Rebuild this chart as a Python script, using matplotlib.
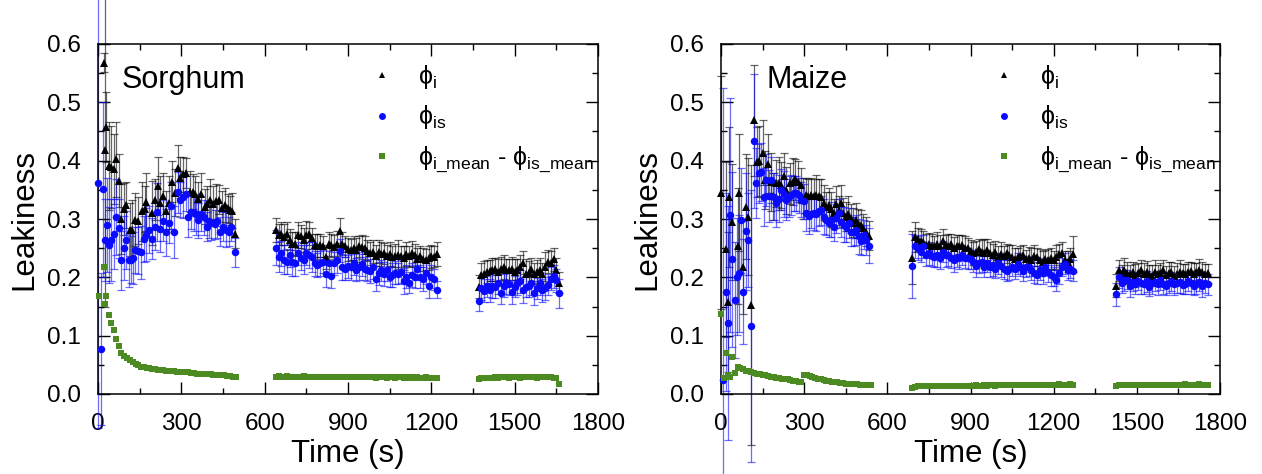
import numpy as np
import matplotlib
matplotlib.use("Agg")
import matplotlib.pyplot as plt
from matplotlib.lines import Line2D

plt.rcParams["font.family"] = ["Liberation Sans", "DejaVu Sans"]
plt.rcParams["mathtext.fontset"] = "custom"
plt.rcParams["mathtext.rm"] = "Liberation Sans"
plt.rcParams["mathtext.it"] = "Liberation Sans:italic"
plt.rcParams["mathtext.fallback"] = "stixsans"

# ---------------- Sorghum ----------------
# segment 1 (irregular early sampling)
sorghum_t_i1 = [20, 24, 29, 38, 48, 58, 66, 77, 84, 95, 102, 114, 122, 134, 144, 158, 168, 174, 194, 204,
                215, 224, 234, 245, 254, 266, 278, 287, 296, 305, 317, 332, 341, 350, 360, 370, 384, 392, 402, 413,
                425, 434, 446, 456, 467, 474, 482, 494]
sorghum_i1 = [0.568, 0.419, 0.458, 0.391, 0.389, 0.385, 0.402, 0.366, 0.300, 0.317, 0.324, 0.282, 0.282, 0.299, 0.297,
              0.313, 0.317, 0.329, 0.311, 0.333, 0.357, 0.328, 0.339, 0.313, 0.328, 0.364, 0.345, 0.387, 0.371, 0.377,
              0.379, 0.347, 0.347, 0.343, 0.334, 0.343, 0.321, 0.326, 0.333, 0.326, 0.330, 0.333, 0.318, 0.324, 0.318,
              0.315, 0.314, 0.275]
sorghum_i1_err = [0.016, 0.27, 0.06, 0.075, 0.07, 0.06, 0.065, 0.045, 0.06, 0.045, 0.04, 0.045, 0.05, 0.045, 0.04,
                  0.05, 0.04, 0.05, 0.055, 0.035, 0.05, 0.045, 0.04, 0.035, 0.045, 0.035, 0.04, 0.04, 0.035, 0.03,
                  0.025, 0.035, 0.03, 0.03, 0.03, 0.035, 0.03, 0.03, 0.035, 0.03, 0.03, 0.025, 0.03, 0.03, 0.025,
                  0.025, 0.03, 0.025]
sorghum_t_is1 = [0, 12, 17, 26, 32, 41, 48, 56, 65, 74, 84, 94, 102, 110, 119, 125, 134, 144, 155, 164,
                 173, 185, 194, 204, 212, 224, 234, 245, 254, 264, 275, 287, 296, 305, 317, 324, 335, 344, 353, 360,
                 372, 382, 392, 400, 408, 420, 428, 440, 450, 461, 470, 480, 494]
sorghum_is1 = [0.362, 0.077, 0.351, 0.264, 0.290, 0.255, 0.264, 0.274, 0.304, 0.284, 0.229, 0.250, 0.264, 0.229,
               0.230, 0.233, 0.247, 0.246, 0.243, 0.266, 0.273, 0.282, 0.266, 0.287, 0.312, 0.283, 0.297, 0.277,
               0.294, 0.323, 0.278, 0.346, 0.333, 0.337, 0.343, 0.304, 0.312, 0.310, 0.308, 0.298, 0.309, 0.303,
               0.287, 0.297, 0.294, 0.291, 0.297, 0.278, 0.287, 0.282, 0.278, 0.287, 0.243]
sorghum_is1_err = [0.42, 0.13, 0.15, 0.07, 0.08, 0.065, 0.07, 0.06, 0.065, 0.05, 0.05, 0.055, 0.05, 0.045, 0.04,
                   0.045, 0.04, 0.04, 0.045, 0.04, 0.045, 0.04, 0.035, 0.04, 0.05, 0.04, 0.035, 0.04, 0.035, 0.04,
                   0.045, 0.035, 0.03, 0.035, 0.03, 0.035, 0.03, 0.03, 0.035, 0.03, 0.03, 0.03, 0.025, 0.03, 0.03,
                   0.025, 0.03, 0.025, 0.025, 0.03, 0.025, 0.025, 0.025]
sorghum_t_d1 = [5, 20, 24, 30, 40, 48, 58, 66, 76, 84] + list(range(95, 505, 10))
sorghum_d1 = [0.168, 0.217, 0.154, 0.168, 0.135, 0.121, 0.109, 0.095, 0.082, 0.071,
              0.066, 0.062, 0.058, 0.055, 0.052, 0.049, 0.047, 0.046, 0.045, 0.044,
              0.043, 0.043, 0.042, 0.041, 0.041, 0.040, 0.040, 0.039, 0.039, 0.038,
              0.038, 0.037, 0.037, 0.037, 0.036, 0.036, 0.035, 0.035, 0.035, 0.034,
              0.034, 0.034, 0.033, 0.033, 0.033, 0.032, 0.032, 0.031, 0.031, 0.030, 0.030]

# segment 2
sorghum_t2 = np.arange(640, 1230, 10)
sorghum_i2 = [0.281, 0.273, 0.275, 0.269, 0.275, 0.264, 0.258, 0.257, 0.273, 0.270,
              0.264, 0.273, 0.275, 0.267, 0.255, 0.253, 0.255, 0.253, 0.235, 0.257,
              0.255, 0.252, 0.258, 0.280, 0.258, 0.253, 0.248, 0.247, 0.250, 0.247,
              0.253, 0.252, 0.250, 0.246, 0.241, 0.244, 0.237, 0.244, 0.240, 0.241,
              0.236, 0.240, 0.235, 0.237, 0.239, 0.236, 0.233, 0.240, 0.236, 0.241,
              0.238, 0.231, 0.236, 0.231, 0.230, 0.233, 0.236, 0.235, 0.240]
sorghum_i2_err = [0.02, 0.018, 0.02, 0.022, 0.02, 0.018, 0.02, 0.02, 0.022, 0.02,
                  0.02, 0.024, 0.02, 0.018, 0.02, 0.022, 0.02, 0.018, 0.02, 0.02,
                  0.02, 0.02, 0.022, 0.021, 0.02, 0.018, 0.02, 0.018, 0.02, 0.02,
                  0.018, 0.02, 0.02, 0.018, 0.02, 0.02, 0.018, 0.02, 0.02, 0.018,
                  0.02, 0.02, 0.018, 0.02, 0.025, 0.018, 0.02, 0.02, 0.018, 0.022,
                  0.02, 0.02, 0.018, 0.02, 0.018, 0.02, 0.02, 0.018, 0.02]
sorghum_is2 = [0.251, 0.235, 0.241, 0.230, 0.227, 0.238, 0.227, 0.225, 0.241, 0.234,
               0.230, 0.241, 0.238, 0.235, 0.224, 0.221, 0.224, 0.227, 0.206, 0.225,
               0.203, 0.224, 0.230, 0.246, 0.218, 0.215, 0.219, 0.218, 0.224, 0.213,
               0.218, 0.223, 0.215, 0.212, 0.211, 0.218, 0.198, 0.207, 0.212, 0.206,
               0.213, 0.201, 0.204, 0.208, 0.206, 0.210, 0.194, 0.201, 0.191, 0.204,
               0.201, 0.214, 0.201, 0.197, 0.207, 0.185, 0.201, 0.197, 0.179]
sorghum_is2_err = [0.03, 0.025, 0.022, 0.025, 0.022, 0.02, 0.025, 0.022, 0.02, 0.022,
                   0.025, 0.02, 0.022, 0.025, 0.022, 0.02, 0.022, 0.02, 0.022, 0.02,
                   0.022, 0.02, 0.022, 0.02, 0.022, 0.02, 0.02, 0.022, 0.02, 0.02,
                   0.022, 0.02, 0.02, 0.018, 0.02, 0.02, 0.022, 0.02, 0.018, 0.02,
                   0.02, 0.018, 0.02, 0.02, 0.018, 0.02, 0.022, 0.02, 0.018, 0.02,
                   0.02, 0.018, 0.02, 0.02, 0.018, 0.02, 0.02, 0.018, 0.015]
sorghum_d2 = [0.030, 0.031, 0.030, 0.030, 0.031, 0.030, 0.030, 0.029, 0.030, 0.030,
              0.031, 0.030, 0.030, 0.029, 0.030, 0.030, 0.029, 0.030, 0.030, 0.029,
              0.029, 0.030, 0.029, 0.029, 0.030, 0.029, 0.029, 0.030, 0.029, 0.029,
              0.029, 0.029, 0.030, 0.029, 0.029, 0.029, 0.028, 0.029, 0.029, 0.029,
              0.028, 0.029, 0.029, 0.028, 0.029, 0.029, 0.028, 0.029, 0.028, 0.029,
              0.028, 0.029, 0.028, 0.028, 0.029, 0.028, 0.028, 0.028, 0.027]

# segment 3
sorghum_t3 = np.arange(1370, 1670, 10)
sorghum_i3 = [0.184, 0.204, 0.206, 0.210, 0.211, 0.213, 0.214, 0.210, 0.215, 0.218,
              0.213, 0.212, 0.215, 0.210, 0.213, 0.218, 0.225, 0.206, 0.208, 0.214,
              0.206, 0.210, 0.213, 0.206, 0.218, 0.227, 0.224, 0.231, 0.213, 0.191]
sorghum_i3_err = [0.02, 0.02, 0.022, 0.02, 0.018, 0.02, 0.02, 0.022, 0.02, 0.02,
                  0.018, 0.02, 0.02, 0.022, 0.018, 0.02, 0.02, 0.025, 0.02, 0.02,
                  0.018, 0.02, 0.02, 0.018, 0.025, 0.02, 0.022, 0.02, 0.02, 0.018]
sorghum_is3 = [0.160, 0.181, 0.177, 0.185, 0.178, 0.186, 0.184, 0.190, 0.174, 0.186,
               0.190, 0.189, 0.175, 0.184, 0.190, 0.193, 0.178, 0.184, 0.186, 0.190,
               0.173, 0.181, 0.190, 0.178, 0.181, 0.187, 0.198, 0.202, 0.195, 0.173]
sorghum_is3_err = [0.018, 0.02, 0.02, 0.018, 0.02, 0.022, 0.02, 0.018, 0.02, 0.02,
                   0.018, 0.02, 0.02, 0.018, 0.02, 0.02, 0.022, 0.018, 0.02, 0.02,
                   0.02, 0.018, 0.02, 0.02, 0.02, 0.018, 0.02, 0.02, 0.02, 0.025]
sorghum_d3 = [0.026, 0.027, 0.027, 0.028, 0.028, 0.028, 0.029, 0.028, 0.029, 0.029,
              0.029, 0.028, 0.029, 0.029, 0.029, 0.028, 0.029, 0.029, 0.029, 0.029,
              0.029, 0.028, 0.029, 0.029, 0.029, 0.029, 0.029, 0.028, 0.028, 0.018]

# ---------------- Maize ----------------
maize_t_i1 = [0, 17, 24, 30, 38, 60, 66, 80, 90, 98, 108, 119, 131, 138, 150, 158, 170, 180, 188, 198,
              209, 218, 228, 236, 248, 258, 266, 278, 288, 296, 306, 314, 326, 335, 344, 353, 362, 372, 380, 390,
              398, 408, 416, 425, 432, 440, 450, 458, 468, 476, 486, 494, 504, 512, 522, 533]
maize_i1 = [0.345, 0.248, 0.157, 0.337, 0.295, 0.254, 0.345, 0.217, 0.321, 0.304,
            0.153, 0.469, 0.397, 0.399, 0.414, 0.367, 0.395, 0.364, 0.339, 0.361,
            0.361, 0.358, 0.374, 0.349, 0.361, 0.364, 0.368, 0.364, 0.358, 0.335,
            0.341, 0.339, 0.341, 0.339, 0.341, 0.339, 0.338, 0.328, 0.321, 0.324,
            0.317, 0.310, 0.326, 0.315, 0.328, 0.311, 0.304, 0.309, 0.301, 0.294,
            0.298, 0.292, 0.290, 0.284, 0.278, 0.271]
maize_i1_err = [0.2, 0.15, 0.12, 0.12, 0.1, 0.1, 0.1, 0.08, 0.09, 0.1,
                0.24, 0.095, 0.06, 0.06, 0.055, 0.05, 0.05, 0.05, 0.04, 0.04,
                0.045, 0.04, 0.04, 0.04, 0.035, 0.04, 0.035, 0.035, 0.03, 0.035,
                0.03, 0.03, 0.03, 0.03, 0.035, 0.03, 0.03, 0.03, 0.025, 0.03,
                0.03, 0.025, 0.03, 0.025, 0.03, 0.025, 0.025, 0.03, 0.025, 0.025,
                0.03, 0.025, 0.025, 0.025, 0.025, 0.025]
maize_t_is1 = [8, 17, 24, 32, 41, 50, 56, 65, 72, 80, 90, 98, 108, 119, 128, 138, 146, 156, 164, 174,
               182, 192, 200, 210, 218, 228, 236, 245, 254, 264, 272, 282, 290, 300, 308, 317, 326, 335, 344, 353,
               362, 372, 380, 390, 398, 408, 416, 425, 434, 444, 452, 461, 470, 480, 488, 497, 506, 515, 524, 533]
maize_is1 = [0.024, 0.175, 0.122, 0.307, 0.231, 0.161, 0.201, 0.207, 0.298, 0.175,
             0.279, 0.264, 0.117, 0.433, 0.361, 0.378, 0.381, 0.338, 0.367, 0.339,
             0.367, 0.338, 0.327, 0.335, 0.350, 0.343, 0.333, 0.338, 0.341, 0.344,
             0.344, 0.341, 0.333, 0.330, 0.310, 0.305, 0.309, 0.311, 0.309, 0.313,
             0.315, 0.304, 0.298, 0.294, 0.299, 0.287, 0.301, 0.310, 0.295, 0.290,
             0.286, 0.293, 0.278, 0.278, 0.281, 0.270, 0.263, 0.273, 0.264, 0.254]
maize_is1_err = [0.5, 0.17, 0.2, 0.2, 0.15, 0.1, 0.1, 0.1, 0.09, 0.09,
                 0.1, 0.08, 0.233, 0.115, 0.06, 0.05, 0.05, 0.05, 0.045, 0.045,
                 0.04, 0.04, 0.04, 0.04, 0.035, 0.04, 0.035, 0.035, 0.035, 0.03,
                 0.03, 0.03, 0.03, 0.03, 0.03, 0.03, 0.025, 0.03, 0.03, 0.025,
                 0.025, 0.03, 0.025, 0.025, 0.03, 0.025, 0.025, 0.025, 0.025, 0.03,
                 0.025, 0.025, 0.025, 0.025, 0.025, 0.03, 0.025, 0.025, 0.025, 0.03]
maize_t_d1 = [0, 10, 17, 24, 32, 41, 50, 60] + list(range(70, 550, 10))
maize_d1 = [0.138, 0.027, 0.070, 0.032, 0.030, 0.063, 0.036, 0.046,
            0.045, 0.043, 0.040, 0.039, 0.038, 0.036, 0.035, 0.034, 0.033, 0.032,
            0.031, 0.030, 0.029, 0.028, 0.027, 0.026, 0.025, 0.025, 0.024, 0.023,
            0.022, 0.021, 0.020, 0.032, 0.032, 0.031, 0.030, 0.028, 0.026, 0.025,
            0.024, 0.023, 0.022, 0.021, 0.021, 0.020, 0.019, 0.019, 0.018, 0.018,
            0.017, 0.017, 0.017, 0.016, 0.016, 0.016, 0.015, 0.015]

maize_t2 = np.arange(690, 1280, 10)
maize_i2 = [0.234, 0.269, 0.265, 0.263, 0.261, 0.255, 0.258, 0.254, 0.253, 0.257,
            0.254, 0.263, 0.255, 0.254, 0.257, 0.251, 0.253, 0.254, 0.255, 0.250,
            0.250, 0.246, 0.241, 0.244, 0.248, 0.244, 0.241, 0.247, 0.242, 0.238,
            0.244, 0.235, 0.240, 0.236, 0.241, 0.238, 0.235, 0.232, 0.235, 0.236,
            0.238, 0.231, 0.234, 0.230, 0.237, 0.235, 0.230, 0.227, 0.231, 0.230,
            0.233, 0.229, 0.235, 0.240, 0.242, 0.230, 0.227, 0.232, 0.240]
maize_i2_err = [0.045, 0.025, 0.02, 0.02, 0.018, 0.02, 0.018, 0.02, 0.018, 0.02,
                0.018, 0.02, 0.018, 0.02, 0.018, 0.018, 0.02, 0.018, 0.018, 0.02,
                0.018, 0.018, 0.02, 0.018, 0.018, 0.02, 0.025, 0.018, 0.018, 0.02,
                0.018, 0.018, 0.02, 0.018, 0.016, 0.018, 0.02, 0.018, 0.016, 0.018,
                0.018, 0.016, 0.018, 0.02, 0.018, 0.016, 0.018, 0.018, 0.016, 0.018,
                0.018, 0.016, 0.02, 0.018, 0.018, 0.016, 0.018, 0.018, 0.03]
maize_is2 = [0.219, 0.253, 0.250, 0.244, 0.253, 0.238, 0.241, 0.237, 0.235, 0.238,
             0.233, 0.244, 0.238, 0.238, 0.234, 0.230, 0.235, 0.233, 0.238, 0.234,
             0.233, 0.231, 0.227, 0.219, 0.224, 0.227, 0.218, 0.225, 0.218, 0.221,
             0.215, 0.224, 0.219, 0.214, 0.211, 0.214, 0.218, 0.215, 0.223, 0.218,
             0.211, 0.218, 0.218, 0.213, 0.208, 0.204, 0.213, 0.207, 0.218, 0.210,
             0.204, 0.201, 0.195, 0.207, 0.218, 0.223, 0.213, 0.215, 0.211]
maize_is2_err = [0.055, 0.02, 0.02, 0.018, 0.02, 0.018, 0.02, 0.018, 0.018, 0.02,
                 0.018, 0.018, 0.02, 0.018, 0.018, 0.02, 0.018, 0.018, 0.016, 0.018,
                 0.018, 0.016, 0.018, 0.018, 0.016, 0.018, 0.018, 0.016, 0.018, 0.018,
                 0.016, 0.018, 0.018, 0.016, 0.018, 0.018, 0.016, 0.018, 0.018, 0.016,
                 0.018, 0.018, 0.016, 0.018, 0.018, 0.016, 0.018, 0.018, 0.016, 0.018,
                 0.018, 0.016, 0.018, 0.018, 0.016, 0.018, 0.018, 0.016, 0.018]
maize_d2 = [0.010, 0.012, 0.013, 0.013, 0.013, 0.013, 0.013, 0.014, 0.013, 0.013,
            0.013, 0.014, 0.013, 0.014, 0.014, 0.014, 0.013, 0.014, 0.014, 0.014,
            0.014, 0.014, 0.014, 0.015, 0.014, 0.014, 0.015, 0.014, 0.015, 0.015,
            0.014, 0.015, 0.015, 0.015, 0.015, 0.015, 0.015, 0.015, 0.016, 0.015,
            0.015, 0.016, 0.015, 0.016, 0.016, 0.015, 0.016, 0.016, 0.016, 0.016,
            0.016, 0.016, 0.016, 0.017, 0.016, 0.016, 0.016, 0.017, 0.016]

maize_t3 = np.arange(1425, 1765, 10)
maize_i3 = [0.186, 0.212, 0.205, 0.213, 0.208, 0.205, 0.209, 0.203, 0.208, 0.212,
            0.205, 0.210, 0.206, 0.203, 0.209, 0.205, 0.207, 0.212, 0.204, 0.207,
            0.209, 0.203, 0.206, 0.210, 0.207, 0.205, 0.209, 0.211, 0.206, 0.209,
            0.213, 0.210, 0.205, 0.207]
maize_i3_err = [0.02, 0.018, 0.016, 0.02, 0.018, 0.016, 0.018, 0.02, 0.016, 0.018,
                0.02, 0.018, 0.016, 0.018, 0.02, 0.016, 0.018, 0.018, 0.016, 0.02,
                0.018, 0.016, 0.018, 0.02, 0.016, 0.018, 0.018, 0.016, 0.018, 0.016,
                0.018, 0.016, 0.018, 0.016]
maize_is3 = [0.171, 0.200, 0.190, 0.195, 0.196, 0.185, 0.192, 0.189, 0.194, 0.190,
             0.188, 0.193, 0.184, 0.190, 0.192, 0.188, 0.195, 0.189, 0.186, 0.191,
             0.193, 0.188, 0.190, 0.192, 0.187, 0.189, 0.193, 0.190, 0.186, 0.189,
             0.192, 0.185, 0.190, 0.188]
maize_is3_err = [0.02, 0.018, 0.016, 0.018, 0.016, 0.018, 0.016, 0.018, 0.016, 0.018,
                 0.016, 0.018, 0.016, 0.018, 0.016, 0.018, 0.016, 0.018, 0.016, 0.018,
                 0.016, 0.018, 0.016, 0.018, 0.016, 0.018, 0.016, 0.018, 0.016, 0.018,
                 0.016, 0.018, 0.016, 0.018]
maize_d3 = [0.014, 0.015, 0.015, 0.015, 0.015, 0.016, 0.015, 0.015, 0.016, 0.015,
            0.016, 0.015, 0.016, 0.016, 0.015, 0.016, 0.016, 0.016, 0.015, 0.016,
            0.016, 0.016, 0.016, 0.016, 0.016, 0.017, 0.016, 0.016, 0.016, 0.016,
            0.017, 0.016, 0.016, 0.016]

x_ticks = [0, 300, 600, 900, 1200, 1500, 1800]
y_ticks = [0.0, 0.1, 0.2, 0.3, 0.4, 0.5, 0.6]
legend_labels = [r"$\mathrm{\phi_{i}}$", r"$\mathrm{\phi_{is}}$",
                 r"$\mathrm{\phi_{i\_mean}}$ - $\mathrm{\phi_{is\_mean}}$"]

BLACK = "black"
BLUE = "#0a0aff"
GREEN = "#4b8b22"


def errbars(ax, t, v, e, color, alpha):
    c = ax.errorbar(t, v, yerr=e, fmt="none", ecolor=color, elinewidth=0.9,
                    capsize=2.8, capthick=0.9, alpha=alpha, zorder=2)
    for art in list(c.lines[1]) + list(c.lines[2]):
        art.set_clip_on(False)


def draw_panel(ax, name, name_x, black, blue, green):
    for t, v, e in black:
        errbars(ax, t, v, e, BLACK, 0.6)
    for t, v, e in blue:
        errbars(ax, t, v, e, BLUE, 0.6)
    for t, v, e in black:
        ax.plot(t, v, "^", color=BLACK, ms=5.6, mew=0, zorder=3, clip_on=False)
    for t, v, e in blue:
        ax.plot(t, v, "o", color=BLUE, ms=5.4, mew=0, zorder=4, clip_on=False)
    for t, v in green:
        ax.plot(t, v, "s", color=GREEN, ms=4.3, mew=0, zorder=5, clip_on=False)

    ax.set_xlim(0, 1800)
    ax.set_ylim(0, 0.6)
    ax.set_xticks(x_ticks)
    ax.set_xticks(np.arange(150, 1800, 300), minor=True)
    ax.set_yticks(y_ticks)
    ax.set_yticks(np.arange(0.05, 0.6, 0.1), minor=True)
    ax.set_yticklabels([f"{y:.1f}" for y in y_ticks])
    ax.tick_params(which="both", direction="in", top=True, right=True,
                   width=1, labelsize=17.5)
    ax.tick_params(which="major", length=8.5)
    ax.tick_params(which="minor", length=4.5)
    ax.tick_params(axis="x", pad=14)
    ax.tick_params(axis="y", pad=12)
    for s in ax.spines.values():
        s.set_linewidth(1.1)

    ax.set_xlabel("Time (s)", fontsize=22.5)
    ax.set_ylabel("Leakiness", fontsize=22.5)
    ax.xaxis.set_label_coords(0.5, -0.128)
    ax.yaxis.set_label_coords(-0.117, 0.5)

    ax.text(name_x, 0.94, name, transform=ax.transAxes, fontsize=22,
            ha="left", va="top")

    handles = [Line2D([], [], ls="none", marker="^", color=BLACK, ms=5, mew=0),
               Line2D([], [], ls="none", marker="o", color=BLUE, ms=5, mew=0),
               Line2D([], [], ls="none", marker="s", color=GREEN, ms=4.5, mew=0)]
    ax.legend(handles, legend_labels, loc="upper left",
              bbox_to_anchor=(0.543, 0.946), frameon=False, fontsize=18,
              handlelength=1.0, handletextpad=0.94, labelspacing=0.5,
              borderpad=0, borderaxespad=0)


fig = plt.figure(figsize=(12.62, 4.74), dpi=100)
ax1 = fig.add_axes([98 / 1262, 80 / 474, 500 / 1262, 350 / 474])
ax2 = fig.add_axes([721 / 1262, 80 / 474, 499 / 1262, 350 / 474])

draw_panel(ax1, "Sorghum", 0.048,
           [(sorghum_t_i1, sorghum_i1, sorghum_i1_err),
            (sorghum_t2, sorghum_i2, sorghum_i2_err),
            (sorghum_t3, sorghum_i3, sorghum_i3_err)],
           [(sorghum_t_is1, sorghum_is1, sorghum_is1_err),
            (sorghum_t2, sorghum_is2, sorghum_is2_err),
            (sorghum_t3, sorghum_is3, sorghum_is3_err)],
           [(sorghum_t_d1, sorghum_d1), (sorghum_t2, sorghum_d2),
            (sorghum_t3, sorghum_d3)])

draw_panel(ax2, "Maize", 0.092,
           [(maize_t_i1, maize_i1, maize_i1_err),
            (maize_t2, maize_i2, maize_i2_err),
            (maize_t3, maize_i3, maize_i3_err)],
           [(maize_t_is1, maize_is1, maize_is1_err),
            (maize_t2, maize_is2, maize_is2_err),
            (maize_t3, maize_is3, maize_is3_err)],
           [(maize_t_d1, maize_d1), (maize_t2, maize_d2),
            (maize_t3, maize_d3)])

fig.savefig("out.png", dpi=100)
